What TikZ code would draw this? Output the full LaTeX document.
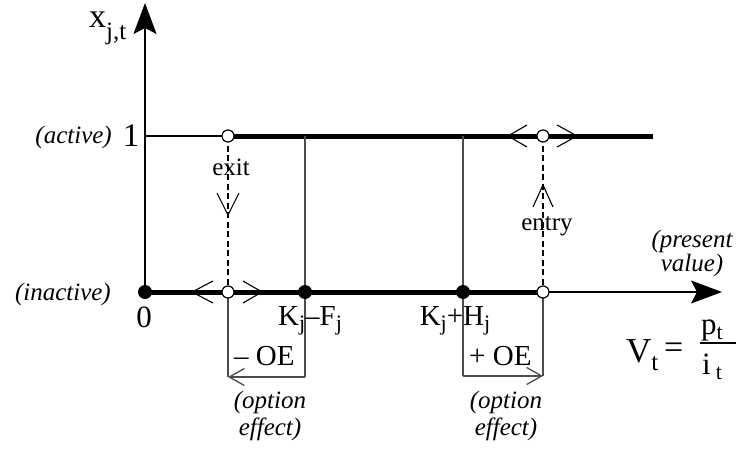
\documentclass[tikz,border=0pt]{standalone}
\usepackage{fontspec}
\setmainfont{Liberation Serif}
\usetikzlibrary{arrows.meta}
\newcommand{\lw}[1]{\raisebox{-5pt}{\fontsize{22}{22}\selectfont #1}}
\newcommand{\lwx}[1]{\raisebox{-12pt}{\fontsize{25}{25}\selectfont #1}}
\begin{document}
\begin{tikzpicture}[x=1pt,y=-1pt,
  thickline/.style={line width=5pt},
  thinline/.style={line width=1.3pt},
  vline/.style={line width=1.3pt, draw=black!70},
  dashline/.style={line width=1.8pt, dash pattern=on 6pt off 3.5pt},
  chev/.style={line width=1.1pt},
  opendot/.style={circle, draw, fill=white, minimum size=12pt, inner sep=0pt, line width=1.2pt},
  fulldot/.style={circle, fill, minimum size=14pt, inner sep=0pt},
  lbl/.style={inner sep=0pt, font=\fontsize{25}{27}\selectfont},
  ital/.style={inner sep=0pt, font=\fontsize{25}{27}\selectfont\itshape},
  mlbl/.style={inner sep=0pt, font=\fontsize{29}{30}\selectfont},
  biglbl/.style={inner sep=0pt, font=\fontsize{35}{36}\selectfont},
  axtip/.style={-{Stealth[length=31pt,width=23pt,inset=6pt]}},
  oetip/.style={-{Straight Barb[length=15pt,width=17pt]}}
]
\useasboundingbox (0,0) rectangle (736,452);

% coordinates
\coordinate (O) at (145,292);
\coordinate (top) at (145,3);
\coordinate (xend) at (722,292);
\coordinate (A1) at (145,136);
\coordinate (actend) at (653,136);
\coordinate (kf1) at (305,136);
\coordinate (kh1) at (463,136);
\coordinate (kfb) at (305,377);
\coordinate (exb) at (228,377);
\coordinate (khb) at (463,376);
\coordinate (enb) at (543,376);

% axes
\draw[thinline, axtip] (O) -- (top);
\draw[thinline, axtip] (O) -- (xend);

% state lines
\draw[thinline] (A1) -- (228,136);
\draw[thickline] (228,136) -- (actend);
\draw[thickline] (O) -- (543,292);

% thresholds and option effect brackets
\draw[vline] (kf1) -- (kfb);
\draw[vline] (kh1) -- (khb);
\draw[vline] (228,292) -- (exb);
\draw[vline] (543,292) -- (enb);
\draw[vline, oetip] (kfb) -- (exb);
\draw[vline, oetip] (khb) -- (enb);

% dashed transitions
\draw[dashline] (228,136) -- (228,292);
\draw[dashline] (543,136) -- (543,292);

% dots
\node[opendot] (ex1) at (228,136) {};
\node[opendot] (ex0) at (228,292) {};
\node[opendot] (en0) at (543,292) {};
\node[opendot] (en1) at (543,136) {};
\node[fulldot] (d0) at (145,292) {};
\node[fulldot] (d1) at (305,292) {};
\node[fulldot] (d2) at (463,292) {};

% chevrons
\draw[chev] ([shift={(-15,-11)}]ex0.center) -- ([shift={(-36,0)}]ex0.center) -- ([shift={(-15,11)}]ex0.center);
\draw[chev] ([shift={(15,-11)}]ex0.center) -- ([shift={(34,0)}]ex0.center) -- ([shift={(15,11)}]ex0.center);
\draw[chev] ([shift={(-16,-11)}]en1.center) -- ([shift={(-35,0)}]en1.center) -- ([shift={(-16,11)}]en1.center);
\draw[chev] ([shift={(14,-11)}]en1.center) -- ([shift={(34,0)}]en1.center) -- ([shift={(14,11)}]en1.center);
% exit / entry heads
\draw[chev] (217,193) -- (228,215) -- (239,193);
\draw[chev] (533,207) -- (543,185) -- (553,207);

% labels
\node[mlbl, anchor=base west, font=\fontsize{34}{34}\selectfont] (xjt) at (89,28) {x\lwx{j,t}};
\node[ital, anchor=base east] (act) at (112,143) {(active)};
\node[mlbl, anchor=base, font=\fontsize{33}{33}\selectfont] (one) at (131,146) {1};
\node[ital, anchor=base east] (inact) at (111,300) {(inactive)};
\node[mlbl, anchor=base, font=\fontsize{31}{31}\selectfont] (zero) at (144,327) {0};
\node[lbl, anchor=base] (exit) at (231,175) {exit};
\node[lbl, anchor=base] (entry) at (547,230) {entry};
\node[ital, anchor=base, align=center, font=\fontsize{25}{22}\selectfont\itshape] (pv) at (692,271) {(present\\value)};
\node[mlbl, anchor=base] (kf) at (310,325) {K\lw{j}--F\lw{j}};
\node[mlbl, anchor=base] (kh) at (455,325) {K\lw{j}+H\lw{j}};
\node[mlbl, anchor=base west] (moe) at (234,365) {-- OE};
\node[mlbl, anchor=base west] (poe) at (469,365) {+ OE};
\node[ital, anchor=base, align=center, font=\fontsize{25}{27}\selectfont\itshape] (oe1) at (270,435) {(option\\effect)};
\node[ital, anchor=base, align=center, font=\fontsize{25}{27}\selectfont\itshape] (oe2) at (506,435) {(option\\effect)};
\node[biglbl, anchor=base west] (vt) at (626,362) {V\raisebox{-8pt}{\fontsize{25}{25}\selectfont t}};
\node[mlbl, anchor=base west, font=\fontsize{34}{34}\selectfont] (eq) at (664,358) {=};
\node[mlbl, anchor=base west, font=\fontsize{31}{31}\selectfont] (pt) at (701,334) {p\lw{t}};
\node[mlbl, anchor=base west, font=\fontsize{31}{31}\selectfont] (it) at (702,374) {i\,\lw{t}};
\draw[line width=1.8pt] (700,343) -- (736,343);
\end{tikzpicture}
\end{document}
